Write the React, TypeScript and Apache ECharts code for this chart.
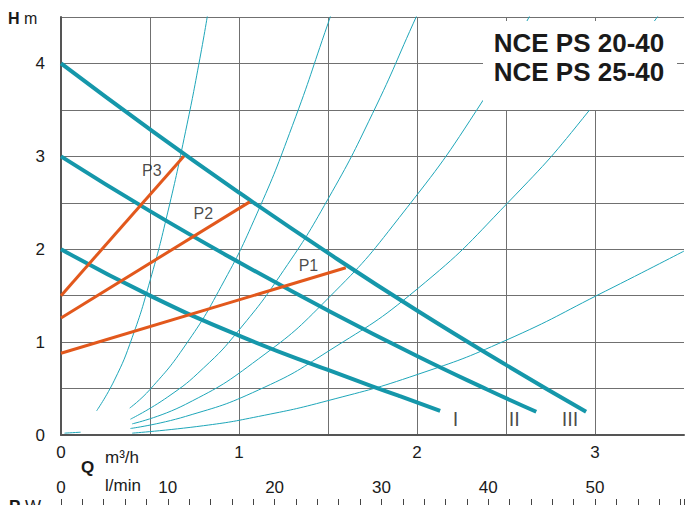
import { useEffect, useRef } from "react";
import * as echarts from "echarts";

// Pump curves (H in m vs Q in m3/h)
const curveI: number[][] = [[0, 2.0], [0.5, 1.5], [1.0, 1.07], [1.5, 0.7], [1.9, 0.42], [2.13, 0.26]];
const curveII: number[][] = [[0, 3.0], [0.5, 2.41], [1.0, 1.86], [1.5, 1.34], [2.0, 0.85], [2.4, 0.485], [2.67, 0.25]];
const curveIII: number[][] = [[0, 4.0], [0.5, 3.29], [1.0, 2.61], [1.5, 1.96], [2.0, 1.34], [2.5, 0.755], [2.95, 0.25]];

// Power lines P1..P3
const lineP1: number[][] = [[0, 0.88], [1.6, 1.8]];
const lineP2: number[][] = [[0, 1.26], [1.06, 2.51]];
const lineP3: number[][] = [[0, 1.5], [0.69, 3.0]];

// System curves (thin)
const sysA: number[][] = [[0.2, 0.26], [0.3, 0.59], [0.4, 1.05], [0.5, 1.66], [0.6, 2.4], [0.7, 3.27], [0.78, 4.05], [0.83, 4.6]];
const sysB: number[][] = [[0.386, 0.29], [0.5, 0.49], [0.7, 0.97], [0.9, 1.6], [1.1, 2.38], [1.3, 3.33], [1.5, 4.43], [1.53, 4.6]];
const sysC: number[][] = [[0.39, 0.17], [0.6, 0.41], [0.8, 0.72], [1.0, 1.13], [1.25, 1.77], [1.5, 2.54], [1.75, 3.46], [2.0, 4.52], [2.02, 4.6]];
const sysD: number[][] = [[0.4, 0.12], [0.7, 0.33], [1.11, 0.82], [1.5, 1.47], [1.9, 2.34], [2.37, 3.6], [2.63, 4.5], [2.66, 4.6]];
const sysE: number[][] = [[0.39, 0.07], [0.7, 0.2], [1.11, 0.485], [1.5, 0.9], [2.0, 1.57], [2.51, 2.5], [2.97, 3.5], [3.35, 4.5], [3.5, 4.9]];
const sysF: number[][] = [[0.4, 0.02], [0.8, 0.1], [1.11, 0.2], [1.5, 0.37], [2.0, 0.65], [2.5, 1.02], [3.06, 1.55], [3.5, 1.98]];
const sysG: number[][] = [[0.02, 0.02], [0.11, 0.03]];

// Label anchors
const pLabels = [
  { name: "P1", value: [1.39, 1.82] },
  { name: "P2", value: [0.8, 2.38] },
  { name: "P3", value: [0.51, 2.85] },
];
const curveLabels = [
  { name: "I", value: [2.216, 0.17] },
  { name: "II", value: [2.546, 0.17] },
  { name: "III", value: [2.86, 0.17] },
];

// Axis labels
const m3hLabels = [0, 1, 2, 3];
const lminLabels = [0, 10, 20, 30, 40, 50];
const hLabels = [0, 1, 2, 3, 4];

const FONT = "'Liberation Sans', Arial, Helvetica, sans-serif";
const TEAL = "#1597aa";
const TEAL_THIN = "#1ea6b9";
const ORANGE = "#e2581c";

const isIn = (v: number, arr: number[]) => arr.some((a) => Math.abs(a - v) < 1e-6);

export default function App() {
  const ref = useRef<HTMLDivElement>(null);
  useEffect(() => {
    if (!ref.current) return;
    const chart = echarts.init(ref.current, undefined, { renderer: "svg" });
    const thin = (data: number[][]) => ({
      type: "line",
      data,
      smooth: true,
      symbol: "none",
      lineStyle: { color: TEAL_THIN, width: 1 },
      z: 2,
      silent: true,
    });
    const thick = (data: number[][]) => ({
      type: "line",
      data,
      smooth: true,
      symbol: "none",
      lineStyle: { color: TEAL, width: 4 },
      z: 3,
      silent: true,
    });
    const orange = (data: number[][]) => ({
      type: "line",
      data,
      symbol: "none",
      lineStyle: { color: ORANGE, width: 3 },
      z: 4,
      silent: true,
    });
    const labels = (data: any[], fontSize: number) => ({
      type: "scatter",
      data,
      symbolSize: 0.1,
      itemStyle: { color: "transparent" },
      label: {
        show: true,
        position: "inside",
        formatter: "{b}",
        color: "#1a1a1a",
        fontSize,
        fontFamily: FONT,
      },
      z: 5,
      silent: true,
    });
    chart.setOption({
      animation: false,
      textStyle: { fontFamily: FONT },
      grid: { left: 61, right: 0.5, top: 17, bottom: 70, containLabel: false },
      xAxis: [
        {
          type: "value",
          min: 0,
          max: 3.5,
          interval: 0.5,
          axisLine: { show: true, onZero: false, lineStyle: { color: "#555", width: 2 } },
          axisTick: { show: false },
          axisLabel: {
            color: "#1a1a1a",
            fontSize: 17,
            margin: 9,
            formatter: (v: number) => (isIn(v, m3hLabels) ? String(Math.round(v)) : ""),
          },
          splitLine: { show: true, showMaxLine: false, lineStyle: { color: "#707070", width: 1 } },
        },
        {
          type: "value",
          min: 0,
          max: 58.33,
          interval: 2,
          position: "bottom",
          offset: 64,
          axisLine: { show: false, onZero: false },
          axisTick: { show: true, length: 8, inside: false, lineStyle: { color: "#444", width: 1 } },
          axisLabel: {
            inside: true,
            color: "#1a1a1a",
            fontSize: 17,
            margin: 3,
            formatter: (v: number) => (isIn(v, lminLabels) ? String(Math.round(v)) : ""),
          },
          splitLine: { show: false },
        },
      ],
      yAxis: {
        type: "value",
        min: 0,
        max: 4.5,
        interval: 0.5,
        axisLine: { show: true, onZero: false, lineStyle: { color: "#555", width: 2 } },
        axisTick: { show: false },
        axisLabel: {
          color: "#1a1a1a",
          fontSize: 17,
          margin: 16,
          formatter: (v: number) => (isIn(v, hLabels) ? String(Math.round(v)) : ""),
        },
        splitLine: { show: true, lineStyle: { color: "#707070", width: 1 } },
      },
      series: [
        thin(sysA),
        thin(sysB),
        thin(sysC),
        thin(sysD),
        thin(sysE),
        thin(sysF),
        thin(sysG),
        thick(curveI),
        thick(curveII),
        thick(curveIII),
        orange(lineP1),
        orange(lineP2),
        orange(lineP3),
        labels(pLabels, 16),
        labels(curveLabels, 20),
      ],
      graphic: [
        {
          type: "rect",
          shape: { x: 483, y: 21, width: 194, height: 89 },
          style: { fill: "#ffffff" },
          z: 100,
          silent: true,
        },
        {
          type: "text",
          x: 579,
          y: 43,
          style: {
            text: "NCE PS 20-40",
            font: `bold 26px ${FONT}`,
            fill: "#1a1a1a",
            align: "center",
            verticalAlign: "middle",
          },
          z: 101,
        },
        {
          type: "text",
          x: 579,
          y: 72,
          style: {
            text: "NCE PS 25-40",
            font: `bold 26px ${FONT}`,
            fill: "#1a1a1a",
            align: "center",
            verticalAlign: "middle",
          },
          z: 101,
        },
        {
          type: "text",
          x: 8,
          y: 18,
          style: {
            text: "{b|H} m",
            rich: { b: { fontWeight: "bold", fontSize: 16, fontFamily: FONT, fill: "#1a1a1a" } },
            font: `16px ${FONT}`,
            fill: "#1a1a1a",
            verticalAlign: "middle",
          },
          z: 101,
        },
        {
          type: "text",
          x: 81,
          y: 467,
          style: { text: "Q", font: `bold 17px ${FONT}`, fill: "#1a1a1a", verticalAlign: "middle" },
          z: 101,
        },
        {
          type: "text",
          x: 105,
          y: 457,
          style: { text: "m³/h", font: `17px ${FONT}`, fill: "#1a1a1a", verticalAlign: "middle" },
          z: 101,
        },
        {
          type: "text",
          x: 105,
          y: 485,
          style: { text: "l/min", font: `17px ${FONT}`, fill: "#1a1a1a", verticalAlign: "middle" },
          z: 101,
        },
        {
          type: "text",
          x: 9,
          y: 498,
          style: {
            text: "{b|P} W",
            rich: { b: { fontWeight: "bold", fontSize: 17, fontFamily: FONT, fill: "#1a1a1a" } },
            font: `17px ${FONT}`,
            fill: "#1a1a1a",
            verticalAlign: "top",
          },
          z: 101,
        },
      ],
    });
    return () => chart.dispose();
  }, []);
  return (
    <div
      ref={ref}
      style={{ position: "fixed", left: 0, top: 0, width: 687, height: 505, background: "#fff" }}
    />
  );
}
